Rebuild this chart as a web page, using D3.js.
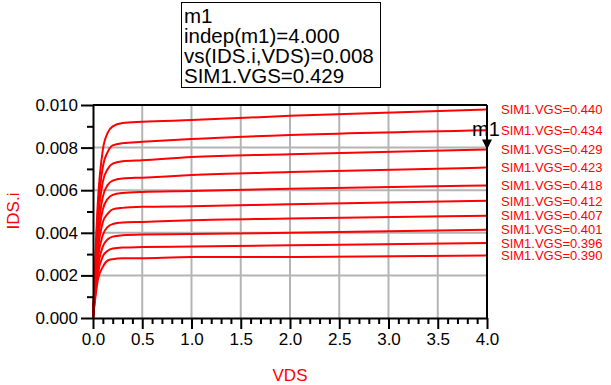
<!DOCTYPE html>
<html>
<head>
<meta charset="utf-8">
<script src="https://cdn.jsdelivr.net/npm/d3@7"></script>
<style>
  body { margin: 0; background: #fff; }
  text { font-family: "Liberation Sans", Arial, sans-serif; }
</style>
</head>
<body>
<div id="chart"></div>
<script>
// sweep values
const vds = [0, 0.05, 0.1, 0.15, 0.2, 0.3, 0.5, 1, 2, 4]
const vgsLabels = ['0.440', '0.434', '0.429', '0.423', '0.418', '0.412', '0.407', '0.401', '0.396', '0.390']

const ids440 = [0, 0.0055, 0.0079, 0.0087, 0.0090, 0.00915, 0.00921, 0.00929, 0.00949, 0.00979]
const ids434 = [0, 0.0050, 0.0071, 0.0078, 0.0081, 0.00821, 0.00827, 0.00840, 0.00859, 0.00882]
const ids429 = [0, 0.0045, 0.0064, 0.0070, 0.00725, 0.00736, 0.00741, 0.00756, 0.00769, 0.00791]
const ids423 = [0, 0.0040, 0.0057, 0.00625, 0.00645, 0.00655, 0.00659, 0.00671, 0.00685, 0.00706]
const ids418 = [0, 0.0036, 0.0051, 0.0056, 0.00578, 0.00587, 0.00592, 0.00596, 0.00607, 0.00622]
const ids412 = [0, 0.0032, 0.0045, 0.0049, 0.0051, 0.00517, 0.00522, 0.00525, 0.00534, 0.00550]
const ids407 = [0, 0.0028, 0.0039, 0.00428, 0.00441, 0.00448, 0.00451, 0.00459, 0.00467, 0.00480]
const ids401 = [0, 0.0024, 0.00336, 0.0037, 0.00382, 0.00388, 0.00392, 0.00394, 0.00400, 0.00414]
const ids396 = [0, 0.0021, 0.0029, 0.00316, 0.00326, 0.00331, 0.00333, 0.00336, 0.00341, 0.00352]
const ids390 = [0, 0.0018, 0.0024, 0.0027, 0.00276, 0.0028, 0.00281, 0.00286, 0.00286, 0.00294]

const allIds = [ids440, ids434, ids429, ids423, ids418, ids412, ids407, ids401, ids396, ids390]

const xTicks = [0, 0.5, 1, 1.5, 2, 2.5, 3, 3.5, 4]
const yTicks = [0, 0.002, 0.004, 0.006, 0.008, 0.010]

// marker m1
const markerVds = 4.0
const markerIndex = 2
const markerLines = ['m1', 'indep(m1)=4.000', 'vs(IDS.i,VDS)=0.008', 'SIM1.VGS=0.429']

// canvas
const width = 611,
  height = 385
const plotLeft = 93, plotRight = 487, plotTop = 105, plotBottom = 318

const svg = d3.select('#chart')
  .append('svg')
  .attr('width', width)
  .attr('height', height)

const x = d3.scaleLinear().domain([0, 4]).range([plotLeft, plotRight])
const y = d3.scaleLinear().domain([0, 0.010]).range([plotBottom, plotTop])

// grid
svg.append('g')
  .selectAll('line')
  .data(xTicks.slice(1, -1))
  .enter()
  .append('line')
  .attr('x1', d => x(d)).attr('x2', d => x(d))
  .attr('y1', plotTop).attr('y2', plotBottom)
  .attr('stroke', '#b4b4b4')
  .attr('stroke-width', 2)

svg.append('g')
  .selectAll('line')
  .data(yTicks.slice(1, -1))
  .enter()
  .append('line')
  .attr('x1', plotLeft).attr('x2', plotRight)
  .attr('y1', d => y(d)).attr('y2', d => y(d))
  .attr('stroke', '#b4b4b4')
  .attr('stroke-width', 2)

// curves
let line = d3.line()
  .x((d, i) => x(vds[i]))
  .y(d => y(d))
  .curve(d3.curveMonotoneX)

svg.append('g')
  .selectAll('path')
  .data(allIds)
  .enter()
  .append('path')
  .attr('d', line)
  .attr('fill', 'none')
  .attr('stroke', '#ff0000')
  .attr('stroke-width', 2)

// frame top / right
svg.append('line')
  .attr('x1', plotLeft).attr('x2', plotRight).attr('y1', plotTop).attr('y2', plotTop)
  .attr('stroke', '#000').attr('stroke-width', 2)
svg.append('line')
  .attr('x1', plotRight).attr('x2', plotRight).attr('y1', plotTop).attr('y2', plotBottom)
  .attr('stroke', '#000').attr('stroke-width', 2)

// axes
let minorX = d3.range(0, 41).filter(i => i % 5 !== 0).map(i => i / 10)
let minorY = [0.001, 0.003, 0.005, 0.007, 0.009]

svg.append('g')
  .attr('transform', `translate(0, ${plotBottom})`)
  .call(d3.axisBottom(x).tickValues(minorX).tickSize(6).tickFormat(''))
  .call(g => g.select('.domain').remove())

svg.append('g')
  .attr('transform', `translate(${plotLeft}, 0)`)
  .call(d3.axisLeft(y).tickValues(minorY).tickSize(6).tickFormat(''))
  .call(g => g.select('.domain').remove())

let xAxis = svg.append('g')
  .attr('transform', `translate(0, ${plotBottom})`)
  .call(d3.axisBottom(x).tickValues(xTicks).tickSize(11).tickSizeOuter(0).tickPadding(4).tickFormat(d3.format('.1f')))

let yAxis = svg.append('g')
  .attr('transform', `translate(${plotLeft}, 0)`)
  .call(d3.axisLeft(y).tickValues(yTicks).tickSize(12).tickSizeOuter(0).tickPadding(3).tickFormat(d3.format('.3f')))

svg.selectAll('.tick line').attr('stroke', '#000').attr('stroke-width', 2)
for (let g of [xAxis, yAxis]) {
  g.select('.domain').attr('stroke', '#000').attr('stroke-width', 2)
  g.selectAll('text')
    .attr('font-family', '"Liberation Sans", Arial, sans-serif')
    .attr('font-size', 17)
    .attr('fill', '#000')
}

// axis titles
svg.append('text')
  .attr('x', 290)
  .attr('y', 381)
  .attr('text-anchor', 'middle')
  .attr('font-size', 17)
  .attr('fill', '#ff0000')
  .text('VDS')

svg.append('text')
  .attr('transform', 'translate(19, 211) rotate(-90)')
  .attr('text-anchor', 'middle')
  .attr('font-size', 17)
  .attr('fill', '#ff0000')
  .text('IDS.i')

// curve labels at the right end
svg.append('g')
  .selectAll('text')
  .data(allIds)
  .enter()
  .append('text')
  .attr('x', 501)
  .attr('y', d => y(d[d.length - 1]))
  .attr('dy', '0.36em')
  .attr('font-size', 13)
  .attr('fill', '#ff0000')
  .text((d, i) => 'SIM1.VGS=' + vgsLabels[i])

// marker arrow
let mx = x(markerVds),
  my = y(allIds[markerIndex][vds.indexOf(markerVds)])
svg.append('path')
  .attr('d', `M${mx - 5},${my - 10}L${mx + 5},${my - 10}L${mx},${my}Z`)
  .attr('fill', '#000')
svg.append('text')
  .attr('x', mx - 15)
  .attr('y', my - 14)
  .attr('font-size', 20)
  .attr('fill', '#000')
  .text('m1')

// marker readout box
svg.append('rect')
  .attr('x', 181.5)
  .attr('y', 2.5)
  .attr('width', 199)
  .attr('height', 85)
  .attr('fill', '#fff')
  .attr('stroke', '#000')
  .attr('stroke-width', 1)

svg.append('g')
  .selectAll('text')
  .data(markerLines)
  .enter()
  .append('text')
  .attr('x', 184)
  .attr('y', (d, i) => 23 + i * 20)
  .attr('font-size', 20.5)
  .attr('fill', '#000')
  .text(d => d)
</script>
</body>
</html>
